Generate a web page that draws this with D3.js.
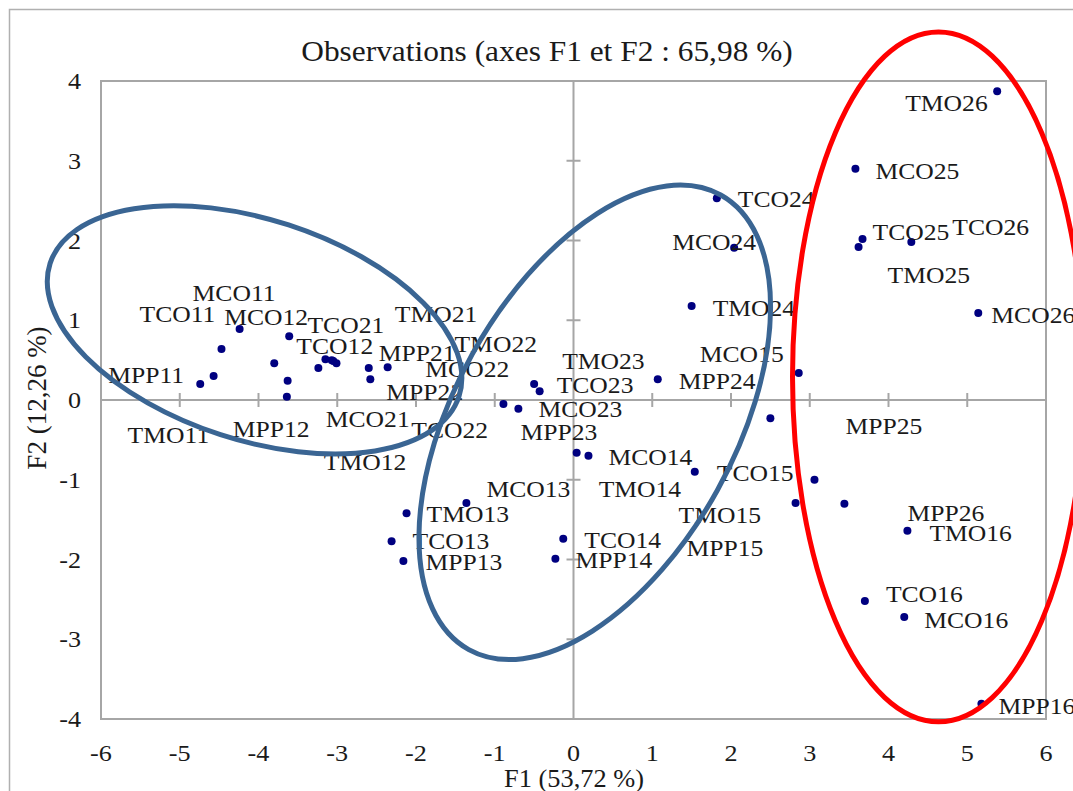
<!DOCTYPE html>
<html><head><meta charset="utf-8">
<script src="https://cdn.jsdelivr.net/npm/d3@7"></script>
<style>body{margin:0;background:#fff}svg{display:block}text{font-family:"Liberation Serif","Times New Roman",serif;fill:#1a1a1a}</style>
</head><body><svg id="c" width="1073" height="791"></svg>
<script>
const names = ["MPP11","TMO11","TCO11","MCO11","MCO12","MPP12","TMO12","TCO22","TCO12","TCO21","TMO21","MCO22","TMO22","MCO21","MPP22","MPP21",
"MPP23","MCO23","TMO23","TCO23","TMO14","MCO14","MCO13","TMO13","TCO13","MPP13","TCO14","MPP14","TCO15",
"TCO24","MCO24","TMO24","MPP24","MCO15","MPP25",
"TMO26","MCO25","TCO25","TMO25","TCO26","MCO26","MPP15","TMO15","MPP26","TMO16","TCO16","MCO16","MPP16"];
const f1 = [-4.74,-4.57,-4.47,-4.24,-3.61,-3.63,-3.64,-3.80,-3.24,-3.15,-3.07,-3.05,-3.01,-2.60,-2.58,-2.36,
-0.89,-0.70,-0.50,-0.43,0.04,0.19,-1.36,-2.12,-2.31,-2.16,-0.13,-0.23,1.54,
1.82,2.04,1.50,1.07,2.86,2.50,
5.38,3.58,3.67,3.62,4.29,5.14,3.06,2.82,3.44,4.24,3.70,4.20,5.18];
const f2 = [0.20,0.30,0.64,0.89,0.80,0.24,0.04,0.46,0.40,0.51,0.50,0.49,0.46,0.40,0.26,0.41,
-0.05,-0.11,0.20,0.11,-0.66,-0.70,-1.29,-1.42,-1.77,-2.02,-1.74,-1.99,-0.90,
2.53,1.91,1.18,0.26,0.34,-0.23,
3.87,2.90,2.02,1.92,1.98,1.09,-1.00,-1.29,-1.30,-1.64,-2.52,-2.72,-3.81];
// label offsets in px (dx, dy) relative to point
const labelDx = [-92,-86,-82,-47,-65,-55,37,137,-22,-18,63,92,118,-43,16,-9,
17,20,28,17,22,20,20,20,21,22,21,20,22,
21,-62,21,21,-99,75,
-92,20,10,29,41,13,-128,-117,63,22,21,20,17];
const labelDy = [-1,67,-27,-28,-11,56,73,75,-14,-26,-38,16,-11,59,21,-6,
36,8,-15,2,44,9,-6,9,8,9,9,9,9,
9,2,10,10,-11,16,
20,10,1,36,-7,10,76,20,17,10,1,11,10];
const xTicks = [-6,-5,-4,-3,-2,-1,0,1,2,3,4,5,6];
const yTicks = [-4,-3,-2,-1,0,1,2,3,4];
// ellipses: center (F1,F2), semi-axes in F1 units, rotation deg
const ellCx = [-4.05, 0.27, 4.635];
const ellCy = [0.88, -0.28, 0.29];
const ellA  = [2.73, 3.30, 1.854];
const ellB  = [1.40, 1.78, 4.38];
const ellRot = [18, -61, 0];
const ellColor = ["#3a6593","#3a6593","#ff0000"];

const svg = d3.select("#c");
const x = d3.scaleLinear().domain([-6,6]).range([101,1046]);
const y = d3.scaleLinear().domain([-4,4]).range([719,81]);
const k = x(1)-x(0);
const grey = "#a6a6a6";
const SX = 1.09;
function txt(px, py, s, size, anchor){
  return svg.append("text").attr("transform",`translate(${px},${py}) scale(${SX},1)`)
    .attr("text-anchor",anchor||"start").attr("font-size",size).text(s);
}

svg.append("rect").attr("x",9.5).attr("y",9.5).attr("width",1100).attr("height",800)
  .attr("fill","none").attr("stroke","#b0b0b0").attr("stroke-width",1.5);
svg.append("rect").attr("x",x(-6)).attr("y",y(4)).attr("width",x(6)-x(-6)).attr("height",y(-4)-y(4))
  .attr("fill","none").attr("stroke",grey).attr("stroke-width",2);
svg.append("line").attr("x1",x(-6)).attr("x2",x(6)).attr("y1",y(0)).attr("y2",y(0)).attr("stroke",grey).attr("stroke-width",2);
svg.append("line").attr("x1",x(0)).attr("x2",x(0)).attr("y1",y(-4)).attr("y2",y(4)).attr("stroke",grey).attr("stroke-width",2);
svg.selectAll(".xt").data(xTicks.filter(d=>d>-6&&d<6&&d!==0)).enter().append("line")
  .attr("x1",d=>x(d)).attr("x2",d=>x(d)).attr("y1",y(0)-7).attr("y2",y(0)+7).attr("stroke",grey).attr("stroke-width",2);
svg.selectAll(".yt").data(yTicks.filter(d=>d>-4&&d<4&&d!==0)).enter().append("line")
  .attr("y1",d=>y(d)).attr("y2",d=>y(d)).attr("x1",x(0)-7).attr("x2",x(0)+7).attr("stroke",grey).attr("stroke-width",2);
xTicks.forEach(d=>txt(x(d), 761, d, 24, "middle"));
yTicks.forEach(d=>txt(81, y(d)+8, d, 24, "end"));
txt(547, 61, "Observations (axes F1 et F2 : 65,98 %)", 28.8, "middle");
txt(574, 787, "F1 (53,72 %)", 24.2, "middle");
svg.append("text").attr("transform","translate(46,398) rotate(-90)").attr("text-anchor","middle").attr("font-size",27)
  .text("F2 (12,26 %)");
const pts = names.map((n,i)=>({n, x:f1[i], y:f2[i], dx:labelDx[i], dy:labelDy[i]}));
svg.selectAll(".p").data(pts).enter().append("circle").attr("cx",d=>x(d.x)).attr("cy",d=>y(d.y))
  .attr("r",4).attr("fill","#000080");
pts.forEach(d=>txt(x(d.x)+d.dx, y(d.y)+d.dy, d.n, 23.5));
const ell = ellCx.map((c,i)=>({cx:c, cy:ellCy[i], a:ellA[i], b:ellB[i], r:ellRot[i], c:ellColor[i]}));
svg.selectAll(".e").data(ell).enter().append("ellipse")
  .attr("transform",d=>`translate(${x(d.cx)},${y(d.cy)}) rotate(${d.r})`)
  .attr("rx",d=>d.a*k).attr("ry",d=>d.b*k).attr("fill","none").attr("stroke",d=>d.c).attr("stroke-width",5);
</script></body></html>
